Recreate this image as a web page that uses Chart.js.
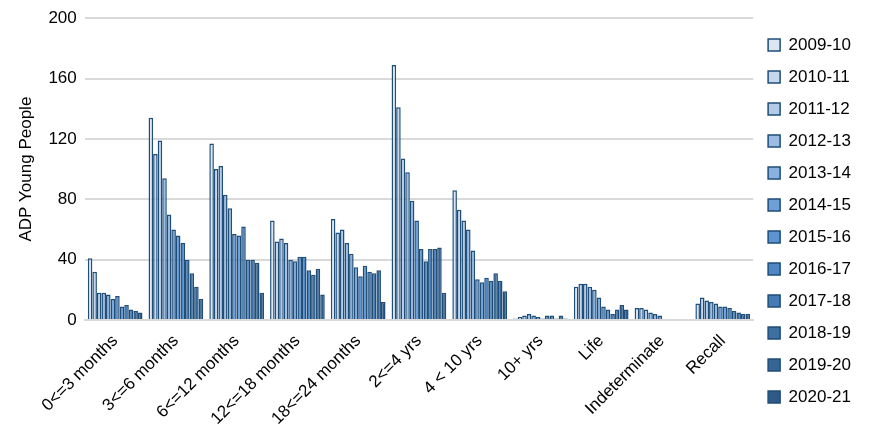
<!DOCTYPE html><html><head><script src="https://cdn.jsdelivr.net/npm/chart.js"></script>
<style>body{margin:0;background:#fff}#w{width:873px;height:436px}</style></head><body><div id="w"><canvas id="c"></canvas></div><script>
const categories=["0<=3 months","3<=6 months","6<=12 months","12<=18 months","18<=24 months","2<=4 yrs","4 < 10 yrs","10+ yrs","Life","Indeterminate","Recall"];
const years=["2009-10","2010-11","2011-12","2012-13","2013-14","2014-15","2015-16","2016-17","2017-18","2018-19","2019-20","2020-21"];
const byCategory=[
[41,32,18,18,17,14,16,9,10,7,6,5],
[134,110,119,94,70,60,56,51,40,31,22,14],
[117,100,102,83,74,57,56,62,40,40,38,18],
[66,52,54,51,40,39,42,42,33,30,34,17],
[67,58,60,51,44,35,29,36,32,31,33,12],
[169,141,107,98,79,66,47,39,47,47,48,18],
[86,73,66,60,46,27,25,28,26,31,26,19],
[1,2,3,4,3,2,1,3,3,1,3,1],
[22,24,24,22,20,15,9,7,4,7,10,7],
[8,8,7,5,4,3,0,0,0,0,0,0],
[11,15,13,12,11,9,9,8,6,5,4,4]];
const colors=["#dce6f2","#c6d7ec","#b3cbe7","#9dbce3","#8ab0dd","#6e9fd8","#5b93d3","#4f86c6","#457bb5","#3d6fa3","#366493","#2f5a86"];
const datasets=years.map((y,i)=>({label:y,data:byCategory.map(r=>r[i]),backgroundColor:colors[i],borderColor:"#1f4e79",borderWidth:1.5,borderSkipped:"bottom",categoryPercentage:0.9,barPercentage:1}));
new Chart(document.getElementById('c'),{type:'bar',data:{labels:categories,datasets},options:{animation:false,responsive:true,maintainAspectRatio:false,
layout:{padding:{top:10,right:12,left:12,bottom:4}},
plugins:{legend:{position:'right',labels:{font:{family:'Liberation Sans',size:17},color:'#000',boxWidth:12,boxHeight:12,padding:15}},tooltip:{enabled:false}},
scales:{x:{grid:{display:false},border:{color:'#d9d9d9',width:2},ticks:{color:'#000',font:{family:'Liberation Sans',size:17},maxRotation:45,minRotation:45}},
y:{min:0,max:200,ticks:{stepSize:40,color:'#000',font:{family:'Liberation Sans',size:17},padding:8},grid:{color:'#d9d9d9',lineWidth:2,drawTicks:false},border:{display:false},
title:{display:true,text:'ADP Young People',color:'#000',font:{family:'Liberation Sans',size:17}}}}}});
</script></body></html>
